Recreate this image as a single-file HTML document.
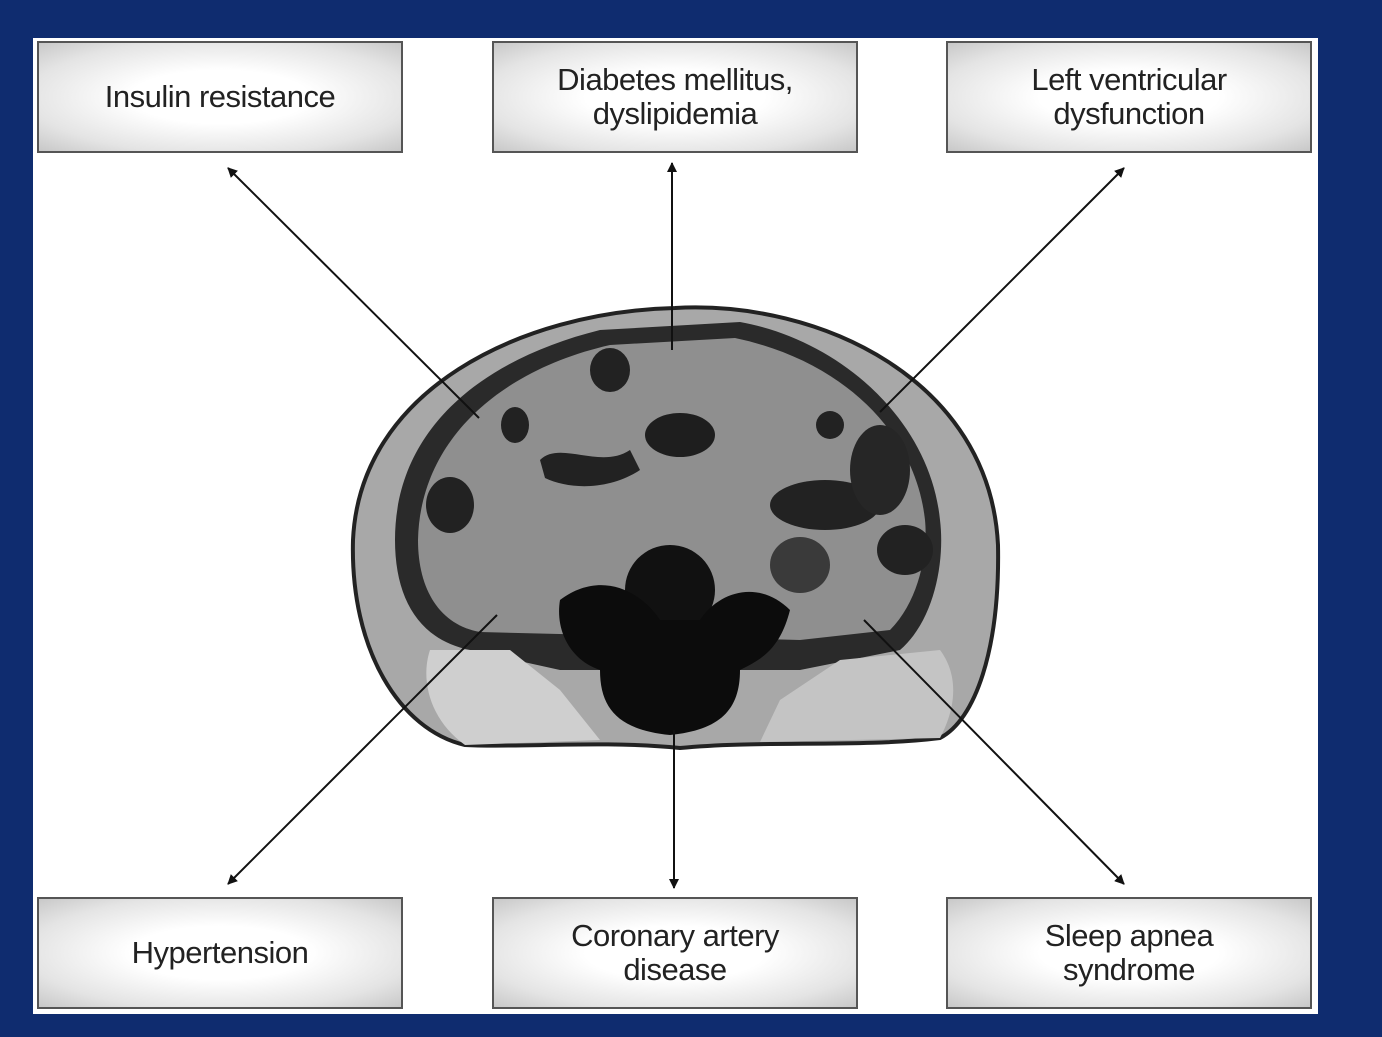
<!DOCTYPE html>
<html><head><style>
html,body{margin:0;padding:0;background:#0f2c6f;width:1382px;height:1037px;overflow:hidden}
.panel{position:absolute;left:33px;top:38px;width:1285px;height:976px;background:#fff}
.box{position:absolute;width:366px;height:112px;border:2px solid #555;box-sizing:border-box;
background:radial-gradient(ellipse at center,#fff 35%,#e4e4e4 75%,#c8c8c8 100%);
display:flex;align-items:center;justify-content:center;text-align:center;
font-family:"Liberation Sans",sans-serif;font-size:31px;line-height:34px;color:#222;letter-spacing:-0.5px}
svg{position:absolute;left:0;top:0}
</style></head><body>
<div class="panel"></div>
<svg width="1382" height="1037">
<defs>
<marker id="a" markerWidth="10" markerHeight="10" refX="9" refY="5" orient="auto" markerUnits="userSpaceOnUse" viewBox="0 0 10 10"><path d="M0,0 L10,5 L0,10 z" fill="#111"/></marker>
</defs>
<path d="M675,308 C820,300 990,380 998,545 C1000,650 975,720 940,738 C860,748 760,740 680,748 C600,740 520,748 465,745 C400,730 350,650 353,540 C360,390 520,312 675,308 Z" fill="#a8a8a8" stroke="#222" stroke-width="4"/>
<path d="M600,330 C480,360 395,430 395,540 C395,600 420,640 470,650 L560,670 L800,670 L900,650 C935,620 945,560 940,520 C930,420 840,340 740,322 Z" fill="#2a2a2a"/>
<path d="M610,345 C500,370 420,440 418,540 C418,590 440,625 480,632 L800,640 L890,630 C920,600 928,550 925,520 C915,430 840,360 735,338 Z" fill="#8f8f8f"/>
<path d="M465,745 C430,720 420,680 430,650 L510,650 L560,690 L600,740 Z" fill="#cfcfcf"/>
<path d="M940,738 C960,700 955,670 940,650 L840,660 L780,700 L760,742 Z" fill="#c4c4c4"/>
<ellipse cx="670" cy="590" rx="45" ry="45" fill="#111"/>
<path d="M560,600 C600,570 640,590 660,620 L700,620 C720,590 760,580 790,610 C780,650 760,660 740,670 C740,710 720,730 670,735 C620,730 600,710 600,670 C570,660 555,630 560,600 Z" fill="#0c0c0c"/>
<ellipse cx="610" cy="370" rx="20" ry="22" fill="#222"/>
<ellipse cx="515" cy="425" rx="14" ry="18" fill="#222"/>
<ellipse cx="450" cy="505" rx="24" ry="28" fill="#222"/>
<path d="M540,460 C560,440 600,470 630,450 L640,470 C610,490 570,490 545,478 Z" fill="#222"/>
<ellipse cx="680" cy="435" rx="35" ry="22" fill="#1e1e1e"/>
<ellipse cx="825" cy="505" rx="55" ry="25" fill="#222"/>
<ellipse cx="880" cy="470" rx="30" ry="45" fill="#262626"/>
<ellipse cx="800" cy="565" rx="30" ry="28" fill="#3a3a3a"/>
<ellipse cx="905" cy="550" rx="28" ry="25" fill="#222"/>
<ellipse cx="830" cy="425" rx="14" ry="14" fill="#222"/>
<g stroke="#111" stroke-width="2" fill="none" marker-end="url(#a)">
<line x1="479" y1="418" x2="228" y2="168"/>
<line x1="672" y1="350" x2="672" y2="163"/>
<line x1="880" y1="412" x2="1124" y2="168"/>
<line x1="497" y1="615" x2="228" y2="884"/>
<line x1="674" y1="730" x2="674" y2="888"/>
<line x1="864" y1="620" x2="1124" y2="884"/>
</g>
</svg>
<div class="box" style="left:37px;top:41px">Insulin resistance</div>
<div class="box" style="left:492px;top:41px">Diabetes mellitus,<br>dyslipidemia</div>
<div class="box" style="left:946px;top:41px">Left ventricular<br>dysfunction</div>
<div class="box" style="left:37px;top:897px">Hypertension</div>
<div class="box" style="left:492px;top:897px">Coronary artery<br>disease</div>
<div class="box" style="left:946px;top:897px">Sleep apnea<br>syndrome</div>
</body></html>
